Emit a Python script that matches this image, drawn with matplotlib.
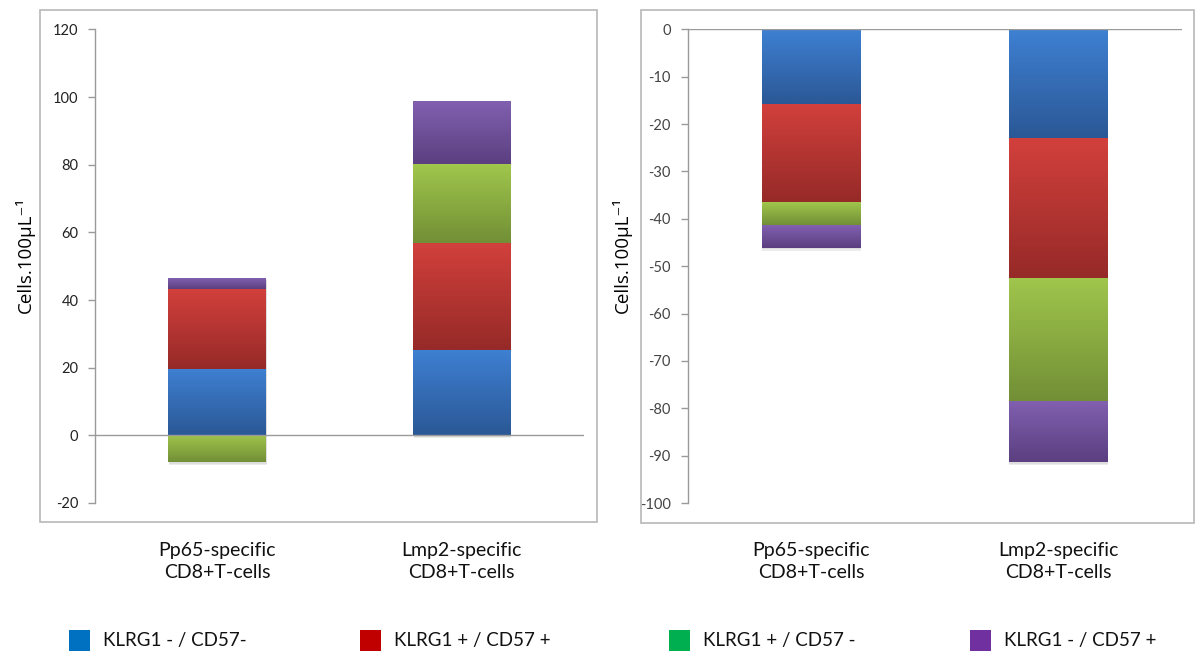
import numpy as np
import matplotlib
matplotlib.use("Agg")
import matplotlib.pyplot as plt
from matplotlib.patches import Rectangle
from matplotlib.colors import to_rgb
from matplotlib import transforms
import matplotlib.patheffects as pe

# ---- data -------------------------------------------------------------
categories = ["Pp65-specific\nCD8+T-cells", "Lmp2-specific\nCD8+T-cells"]
series_names = ["KLRG1 - / CD57-", "KLRG1 + / CD57 +", "KLRG1 + / CD57 -", "KLRG1 - / CD57 +"]

left_blue = [19.7, 25.2]
left_red = [23.7, 31.7]
left_green = [-8.0, 23.3]
left_purple = [3.2, 18.5]

right_blue = [-15.7, -23.0]
right_red = [-20.8, -29.4]
right_green = [-4.8, -26.0]
right_purple = [-4.8, -13.0]

left_ticks = [-20, 0, 20, 40, 60, 80, 100, 120]
right_ticks = [-100, -90, -80, -70, -60, -50, -40, -30, -20, -10, 0]

# ---- styles -----------------------------------------------------------
grad_top = ["#3e80d2", "#d2403c", "#a0c64c", "#8160b0"]
grad_bottom = ["#2b5896", "#962a28", "#728f36", "#5b3f80"]
legend_colors = ["#0070c0", "#c00000", "#00b050", "#7030a0"]

tick_font = ["Lato", "DejaVu Sans"]
text_font = ["Lato", "DejaVu Sans"]
label_font = ["Open Sans", "DejaVu Sans"]

W, H = 1202, 651
fig = plt.figure(figsize=(W / 100, H / 100), dpi=100)


def fx(px):
    return px / W


def fy(py):
    return 1 - py / H


def gradient_fill(ax, patch, top, bottom):
    x, y = patch.get_x(), patch.get_y()
    w, h = patch.get_width(), patch.get_height()
    y0, y1 = min(y, y + h), max(y, y + h)
    t = np.linspace(0, 1, 64)[:, None]
    c0, c1 = np.array(to_rgb(top)), np.array(to_rgb(bottom))
    img = (c0 * (1 - t) + c1 * t)[:, None, :]
    im = ax.imshow(img, extent=[x, x + w, y0, y1], origin="upper",
                   aspect="auto", zorder=3, interpolation="bilinear")
    im.set_clip_path(patch)


def draw_panel(ax, series, ticks, ylim, tick_color):
    xpos = np.arange(len(categories))
    pos_base = np.zeros(len(categories))
    neg_base = np.zeros(len(categories))
    for i, vals in enumerate(series):
        vals = np.asarray(vals, dtype=float)
        bottoms = np.where(vals >= 0, pos_base, neg_base)
        bars = ax.bar(xpos, vals, width=0.4, bottom=bottoms,
                      color=grad_bottom[i], linewidth=0, zorder=2)
        for b in bars:
            b.set_path_effects([pe.SimplePatchShadow(offset=(0.5, -2),
                                                     shadow_rgbFace="#9a9a9a",
                                                     alpha=0.18),
                                pe.SimplePatchShadow(offset=(0.5, -1),
                                                     shadow_rgbFace="#9a9a9a",
                                                     alpha=0.18),
                                pe.Normal()])
            gradient_fill(ax, b, grad_top[i], grad_bottom[i])
        pos_base = pos_base + np.where(vals >= 0, vals, 0)
        neg_base = neg_base + np.where(vals < 0, vals, 0)

    ax.set_xlim(-0.5, len(categories) - 0.5)
    ax.set_ylim(*ylim)
    ax.set_yticks(ticks)
    ax.set_yticklabels([str(t) for t in ticks], family=tick_font,
                       fontsize=10.5, color=tick_color)
    ax.set_xticks([])
    for s in ("top", "right", "bottom"):
        ax.spines[s].set_visible(False)
    ax.spines["left"].set_color("#9a9a9a")
    ax.spines["left"].set_linewidth(1)
    ax.tick_params(axis="y", direction="out", length=5, width=1,
                   color="#9a9a9a", pad=7)
    ax.axhline(0, color="#9a9a9a", lw=1, zorder=4)
    ax.set_facecolor("none")

    # category labels sit below the panel frame
    tr = transforms.blended_transform_factory(ax.transData, fig.transFigure)
    for x, lab in zip(xpos, categories):
        ax.text(x, fy(561.5), lab, transform=tr, ha="center", va="center",
                family=text_font, fontsize=14, color="#111111",
                linespacing=1.4)


# ---- left panel -------------------------------------------------------
fig.add_artist(Rectangle((fx(40), fy(522)), fx(597 - 40), (522 - 10) / H,
                         transform=fig.transFigure, fill=False,
                         ec="#b8b8b8", lw=1.2))
axL = fig.add_axes([fx(95), fy(503), fx(584 - 95), (503 - 29.4) / H])
draw_panel(axL, [left_blue, left_red, left_green, left_purple],
           left_ticks, (-20, 120), "#222222")
fig.text(fx(25), fy(255), "Cells.100µL⁻¹", rotation=90,
         ha="center", va="center", family=label_font, fontsize=13.5)

# ---- right panel ------------------------------------------------------
fig.add_artist(Rectangle((fx(641), fy(523)), fx(1194 - 641), (523 - 10) / H,
                         transform=fig.transFigure, fill=False,
                         ec="#b8b8b8", lw=1.2))
axR = fig.add_axes([fx(687.5), fy(503), fx(1181.6 - 687.5), (503 - 29.4) / H])
draw_panel(axR, [right_blue, right_red, right_green, right_purple],
           right_ticks, (-100, 0), "#444444")
fig.text(fx(622), fy(255), "Cells.100µL⁻¹", rotation=90,
         ha="center", va="center", family=label_font, fontsize=13.5)

# ---- legend -----------------------------------------------------------
marker_x = [69, 360, 669, 970]
for mx, col, name in zip(marker_x, legend_colors, series_names):
    fig.add_artist(Rectangle((fx(mx), fy(651)), fx(21), 21 / H,
                             transform=fig.transFigure, fc=col, ec="none"))
    fig.text(fx(mx + 34), fy(646), name, ha="left", va="baseline",
             family=text_font, fontsize=13.5, color="#111111")

fig.savefig("out.png", dpi=100, facecolor="white")
